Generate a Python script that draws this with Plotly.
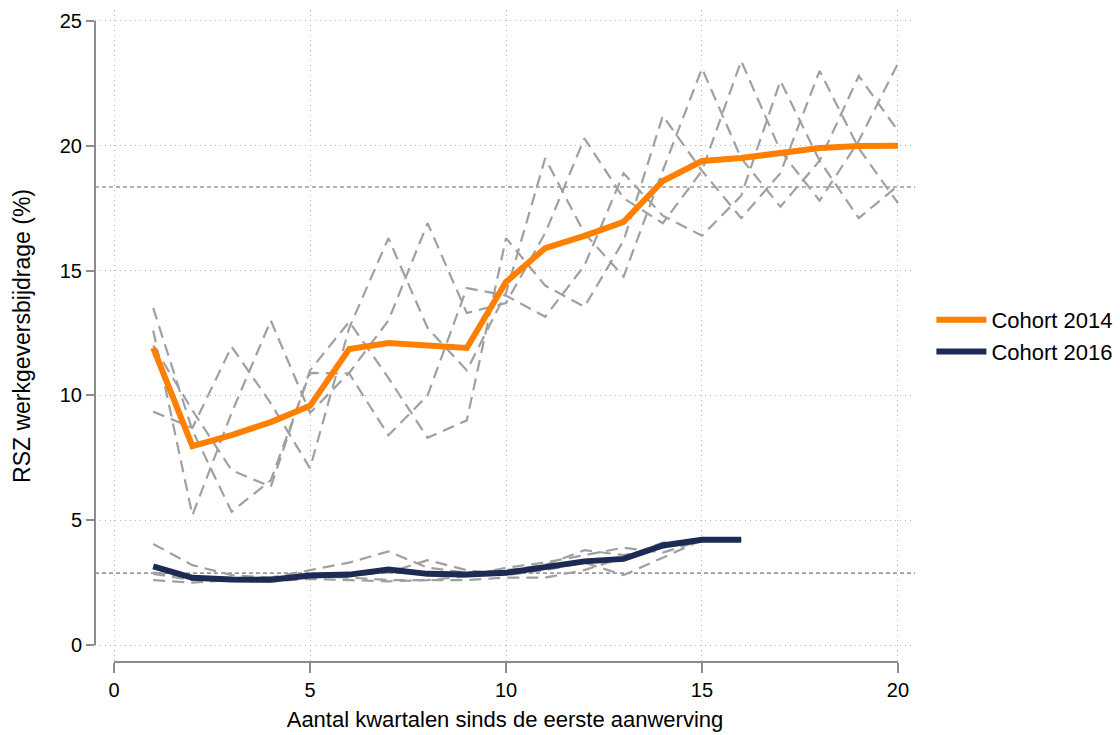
import plotly.graph_objects as go

# Quarters since first hire
quarters_2014 = list(range(1, 21))
quarters_2016 = list(range(1, 17))

# Average employer social-security contribution (%) per cohort
cohort_2014 = [11.9, 7.97, 8.41, 8.93, 9.58, 11.86, 12.1, 11.98, 11.9, 14.54,
               15.9, 16.39, 16.95, 18.59, 19.39, 19.51, 19.71, 19.91, 19.99, 20.0]
cohort_2016 = [3.15, 2.69, 2.62, 2.61, 2.78, 2.82, 3.02, 2.85, 2.82, 2.89,
               3.12, 3.35, 3.45, 3.99, 4.22, 4.22]

# Sub-group series (dashed grey) for the 2014 cohort
sub_2014_a = [12.6, 5.2, 9.3, 13.0, 9.3, 10.9, 13.0, 16.9, 13.3, 13.7,
              16.5, 20.3, 17.9, 16.9, 19.0, 23.4, 19.8, 17.8, 20.2, 23.3]
sub_2014_b = [13.5, 8.6, 5.34, 6.6, 10.9, 10.88, 8.4, 10.0, 14.3, 14.0,
              13.15, 15.2, 18.9, 17.2, 16.4, 18.0, 22.6, 19.4, 17.1, 18.4]
sub_2014_c = [12.0, 9.4, 7.0, 6.34, 11.0, 12.95, 10.7, 8.3, 9.0, 16.3,
              14.4, 13.55, 16.2, 21.2, 19.0, 17.1, 18.9, 23.0, 19.9, 17.7]
sub_2014_d = [9.35, 8.7, 11.95, 9.68, 7.08, 12.7, 16.3, 12.7, 11.0, 14.1,
              19.5, 16.5, 14.76, 19.0, 23.1, 19.5, 17.56, 19.4, 22.8, 20.6]

# Sub-group series (dashed grey) for the 2016 cohort
sub_2016_a = [4.05, 3.2, 2.8, 2.7, 2.75, 2.7, 2.6, 2.6, 2.6, 2.7,
              2.7, 3.0, 3.5, 4.1, 4.2, 4.2]
sub_2016_b = [2.85, 2.6, 2.65, 2.7, 3.0, 3.3, 3.75, 3.1, 2.9, 3.0,
              3.2, 3.8, 3.6, 3.9, 4.2, 4.2]
sub_2016_c = [2.6, 2.5, 2.6, 2.7, 2.7, 2.8, 2.9, 3.4, 3.0, 2.8,
              3.0, 3.3, 2.8, 3.5, 4.2, 4.2]
sub_2016_d = [2.9, 2.7, 2.65, 2.55, 2.65, 2.6, 2.55, 2.6, 2.75, 3.1,
              3.3, 3.6, 3.9, 3.7, 4.2, 4.2]

# Horizontal reference levels
ref_levels = [18.35, 2.88]

x_ticks = [0, 5, 10, 15, 20]
y_ticks = [0, 5, 10, 15, 20, 25]

ORANGE = "#FF7F00"
NAVY = "#1C2A54"
GREY = "#A0A0A0"
FONT = "Liberation Sans, Arial, sans-serif"

fig = go.Figure()

for ys in (sub_2014_a, sub_2014_b, sub_2014_c, sub_2014_d):
    fig.add_trace(go.Scatter(x=quarters_2014, y=ys, mode="lines",
                             line=dict(color=GREY, width=2.2, dash="12px,7px"),
                             showlegend=False, hoverinfo="skip"))
for ys in (sub_2016_a, sub_2016_b, sub_2016_c, sub_2016_d):
    fig.add_trace(go.Scatter(x=quarters_2016, y=ys, mode="lines",
                             line=dict(color=GREY, width=2.2, dash="12px,7px"),
                             showlegend=False, hoverinfo="skip"))

fig.add_trace(go.Scatter(x=quarters_2014, y=cohort_2014, mode="lines",
                         name="Cohort 2014",
                         line=dict(color=ORANGE, width=6)))
fig.add_trace(go.Scatter(x=quarters_2016, y=cohort_2016, mode="lines",
                         name="Cohort 2016",
                         line=dict(color=NAVY, width=6)))

# Dashed reference lines across the plotting area
for lvl in ref_levels:
    fig.add_shape(type="line", xref="paper", yref="y", x0=0, x1=1, y0=lvl, y1=lvl,
                  line=dict(color="#9A9A9A", width=1.6, dash="4px,3px"), layer="below")

# Detached axis lines spanning only the tick range
fig.add_shape(type="line", xref="paper", yref="y", x0=0, x1=0, y0=0, y1=25,
              line=dict(color="#8C8C8C", width=2))
fig.add_shape(type="line", xref="x", yref="paper", x0=0, x1=20, y0=0, y1=0,
              line=dict(color="#8C8C8C", width=2))

fig.update_layout(
    width=1120, height=735,
    margin=dict(l=95, r=205, t=10, b=73, autoexpand=False),
    paper_bgcolor="white", plot_bgcolor="white",
    font=dict(family=FONT, size=20, color="black"),
    legend=dict(x=1.02, y=0.5, xanchor="left", yanchor="middle",
                font=dict(size=22), tracegroupgap=0, itemwidth=50),
)

fig.update_xaxes(range=[-0.485, 20.434], tickvals=x_ticks, ticks="outside", ticklen=10,
                 tickcolor="#8C8C8C", tickwidth=1.5, showline=False, zeroline=False,
                 showgrid=True, gridcolor="#B4B4B4", griddash="1px,4px", gridwidth=1,
                 tickfont=dict(size=20), automargin=False,
                 title=dict(text="Aantal kwartalen sinds de eerste aanwerving",
                            font=dict(size=22), standoff=11))
fig.update_yaxes(range=[-0.681, 25.44], tickvals=y_ticks, ticks="outside", ticklen=8,
                 tickcolor="#8C8C8C", tickwidth=1.5, showline=False, zeroline=False,
                 showgrid=True, gridcolor="#B4B4B4", griddash="1px,4px", gridwidth=1,
                 tickfont=dict(size=20), automargin=False,
                 title=dict(text="RSZ werkgeversbijdrage (%)", font=dict(size=23), standoff=22))

fig.write_html("out.html")
